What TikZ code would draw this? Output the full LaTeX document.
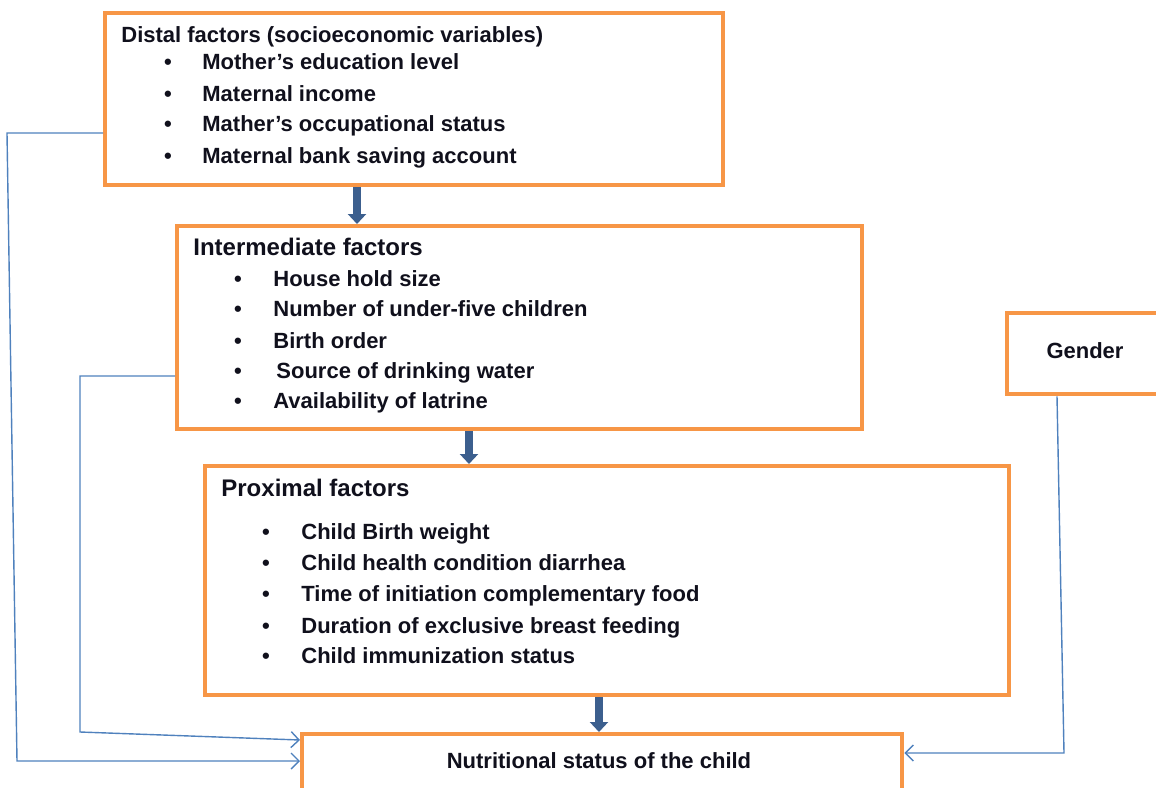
\documentclass[tikz,border=0pt]{standalone}
\usepackage{fontspec}
\setmainfont{Liberation Sans}
\usetikzlibrary{arrows.meta}

\definecolor{boxorange}{HTML}{F79646}
\definecolor{linkblue}{HTML}{4F81BD}
\definecolor{flowblue}{HTML}{3C5F8E}
\definecolor{txtdark}{HTML}{10101C}

\begin{document}
\begin{tikzpicture}[x=0.5pt, y=-0.5pt,
    box/.style={draw=boxorange, line width=2.2pt, fill=white, anchor=north west, inner sep=0pt},
    item/.style={anchor=base west, inner sep=0pt, text=txtdark, font=\fontsize{11}{13}\selectfont\bfseries},
    head/.style={anchor=base west, inner sep=0pt, text=txtdark, font=\fontsize{12}{14}\selectfont\bfseries},
    dot/.style={anchor=base, inner sep=0pt, text=txtdark, font=\fontsize{11}{13}\selectfont\bfseries},
    flow/.style={draw=flowblue, line width=4pt, -{Triangle[width=9pt,length=5pt]}},
    link/.style={draw=linkblue, line width=0.7pt, -{Straight Barb[width=8pt,length=4pt]}}]
        \useasboundingbox (0,0) rectangle (1156,787);

        % Boxes
        \node[box, minimum width=309pt, minimum height=86pt] (distal) at (103,11) {};
        \node[box, minimum width=342.5pt, minimum height=101.5pt] (inter) at (175,224) {};
        \node[box, minimum width=402pt, minimum height=114.5pt] (prox) at (203,464) {};
        \node[box, minimum width=300pt, minimum height=29pt] (nutri) at (300,732) {};
        \node[box, minimum width=82.5pt, minimum height=40.5pt] (gender) at (1005,311) {};

        % Distal factors
        \node[item] (dhead) at (121,42) {Distal factors (socioeconomic variables)};
        \foreach \y/\t [count=\i] in {69/Mother’s education level, 101/Maternal income,
                131/Mather’s occupational status, 163/Maternal bank saving account} {
            \node[dot] (db\i) at (168,\y) {•};
            \node[item] (di\i) at (202,\y) {\t};
        }

        % Intermediate factors
        \node[head] (ihead) at (193,255) {Intermediate factors};
        \foreach \y/\t [count=\i] in {286/House hold size, 316/Number of under-five children,
                348/Birth order, 378/Source of drinking water, 408/Availability of latrine} {
            \node[dot] (ib\i) at (238,\y) {•};
        }
        \node[item] (ii1) at (273,286) {House hold size};
        \node[item] (ii2) at (273,316) {Number of under-five children};
        \node[item] (ii3) at (273,348) {Birth order};
        \node[item] (ii4) at (276,378) {Source of drinking water};
        \node[item] (ii5) at (273,408) {Availability of latrine};

        % Proximal factors
        \node[head] (phead) at (221,496) {Proximal factors};
        \foreach \y/\t [count=\i] in {539/Child Birth weight, 570/Child health condition diarrhea,
                601/Time of initiation complementary food, 633/Duration of exclusive breast feeding,
                663/Child immunization status} {
            \node[dot] (pb\i) at (266,\y) {•};
            \node[item] (pi\i) at (301,\y) {\t};
        }

        % Outcome and gender
        \node[item, anchor=base] (ntext) at (599,768) {Nutritional status of the child};
        \node[item, anchor=base] (gtext) at (1085,358) {Gender};

        % Main flow
        \coordinate (f1) at (357,0);
        \coordinate (f2) at (469,0);
        \coordinate (f3) at (599,0);
        \draw[flow] (distal.south -| f1) -- (inter.north -| f1);
        \draw[flow] (inter.south -| f2) -- (prox.north -| f2);
        \draw[flow] (prox.south -| f3) -- (nutri.north -| f3);

        % Direct links
        \coordinate (c1) at (7,133);
        \coordinate (c2) at (17,761);
        \draw[link] (distal.west |- c1) -- (c1) -- (c2) -- (nutri.west |- c2);
        \coordinate (c3) at (80,376);
        \coordinate (c4) at (80,732);
        \coordinate (c5) at (0,740);
        \draw[link] (inter.west |- c3) -- (c3) -- (c4) -- (nutri.west |- c5);
        \coordinate (c6) at (1057,0);
        \coordinate (c7) at (1064,753);
        \draw[link] (gender.south -| c6) -- (c7) -- (nutri.east |- c7);
\end{tikzpicture}
\end{document}
